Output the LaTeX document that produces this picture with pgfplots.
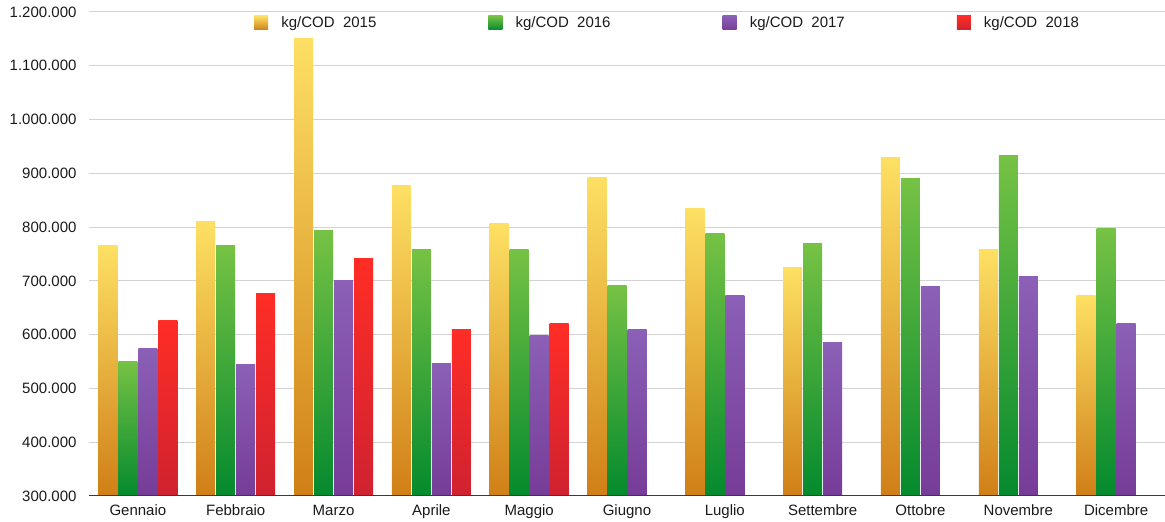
\documentclass[border=0pt]{standalone}
\usepackage{fontspec}
\setmainfont{Liberation Sans}
\usepackage{pgfplots}
\usepackage{pgfplotstable}
\pgfplotsset{compat=1.18}
\usetikzlibrary{calc}

\definecolor{a15top}{HTML}{FDE063}
\definecolor{a15bot}{HTML}{D07F17}
\definecolor{a16top}{HTML}{76C244}
\definecolor{a16bot}{HTML}{048A2E}
\definecolor{a17top}{HTML}{8B60B6}
\definecolor{a17bot}{HTML}{763C98}
\definecolor{a18top}{HTML}{FF2D26}
\definecolor{a18bot}{HTML}{CF2230}
\definecolor{gridgray}{HTML}{D3D3D3}
\definecolor{axisdark}{HTML}{3A3A3A}
\definecolor{textdark}{HTML}{1A1A1A}

% kg/COD per month (0 = Gennaio ... 10 = Dicembre, no Agosto)
\pgfplotstableread{
m v
0 765000
1 810000
2 1150000
3 877000
4 806000
5 893000
6 834000
7 724000
8 929000
9 758000
10 672000
}\kgA
\pgfplotstableread{
m v
0 551000
1 765000
2 793000
3 758000
4 758000
5 692000
6 789000
7 769000
8 890000
9 934000
10 797000
}\kgB
\pgfplotstableread{
m v
0 575000
1 544000
2 700000
3 547000
4 599000
5 609000
6 672000
7 585000
8 689000
9 709000
10 620000
}\kgC
\pgfplotstableread{
m v
0 627000
1 676000
2 741000
3 609000
4 620000
}\kgD

\newcommand{\lbl}{\fontsize{15pt}{18pt}\selectfont}

% one bar per plot, so that each bar gets its own gradient
\pgfplotsset{
  onebar/.style n args={4}{ybar, bar width=19pt, bar shift=#1, draw=none,
    top color=#2, bottom color=#3, forget plot,
    restrict x to domain=#4:#4},
}

\begin{document}
\begin{tikzpicture}
\begin{axis}[
  scale only axis, width=1076pt, height=484pt,
  xmin=-0.5, xmax=10.5, ymin=0, ymax=900000,
  xtick={0,...,10},
  xticklabels={Gennaio,Febbraio,Marzo,Aprile,Maggio,Giugno,Luglio,Settembre,Ottobre,Novembre,Dicembre},
  ytick={0,100000,200000,300000,400000,500000,600000,700000,800000,900000},
  yticklabels={300.000,400.000,500.000,600.000,700.000,800.000,900.000,1.000.000,1.100.000,1.200.000},
  scaled y ticks=false,
  major tick length=0pt,
  ymajorgrids, grid style={line width=1pt, color=gridgray},
  axis x line*=bottom, axis y line*=left,
  y axis line style={draw=none},
  x axis line style={draw=none},
  tick label style={font=\lbl, color=textdark},
  xticklabel style={text height=11pt, text depth=3pt, yshift=-4.5pt},
  yticklabel style={xshift=-9pt},
  legend columns=4, legend cell align=left,
  legend style={at={(rel axis cs:0.1533,1)}, anchor=west, yshift=-11pt,
    draw=none, fill=none, inner sep=0pt, column sep=0pt,
    nodes={inner sep=0pt}, font=\lbl, text=textdark},
  legend image code/.code={\path[#1,draw=none] (0pt,-7pt) rectangle (14pt,7pt); \path (27pt,0pt);},
]
\pgfplotsinvokeforeach{0,...,10}{
  \addplot[onebar={-30pt}{a15top}{a15bot}{#1}] table[x=m, y expr=\thisrow{v}-300000] {\kgA};
  \addplot[onebar={-10pt}{a16top}{a16bot}{#1}] table[x=m, y expr=\thisrow{v}-300000] {\kgB};
  \addplot[onebar={10pt}{a17top}{a17bot}{#1}] table[x=m, y expr=\thisrow{v}-300000] {\kgC};
}
\pgfplotsinvokeforeach{0,...,4}{
  \addplot[onebar={30pt}{a18top}{a18bot}{#1}] table[x=m, y expr=\thisrow{v}-300000] {\kgD};
}
\addlegendimage{top color=a15top, bottom color=a15bot}
\addlegendentry{\makebox[207pt][l]{kg/COD\ \ 2015}}
\addlegendimage{top color=a16top, bottom color=a16bot}
\addlegendentry{\makebox[207pt][l]{kg/COD\ \ 2016}}
\addlegendimage{top color=a17top, bottom color=a17bot}
\addlegendentry{\makebox[207pt][l]{kg/COD\ \ 2017}}
\addlegendimage{top color=a18top, bottom color=a18bot}
\addlegendentry{kg/COD\ \ 2018}
\draw[axisdark, line width=1.5pt] (rel axis cs:0,0) -- (rel axis cs:1,0);
\coordinate (ll) at (rel axis cs:0,0);
\coordinate (ur) at (rel axis cs:1,1);
\end{axis}
\pgfresetboundingbox
\path[use as bounding box] ($(ll)+(-89pt,-26pt)$) rectangle ($(ur)+(0pt,12pt)$);
\end{tikzpicture}
\end{document}
